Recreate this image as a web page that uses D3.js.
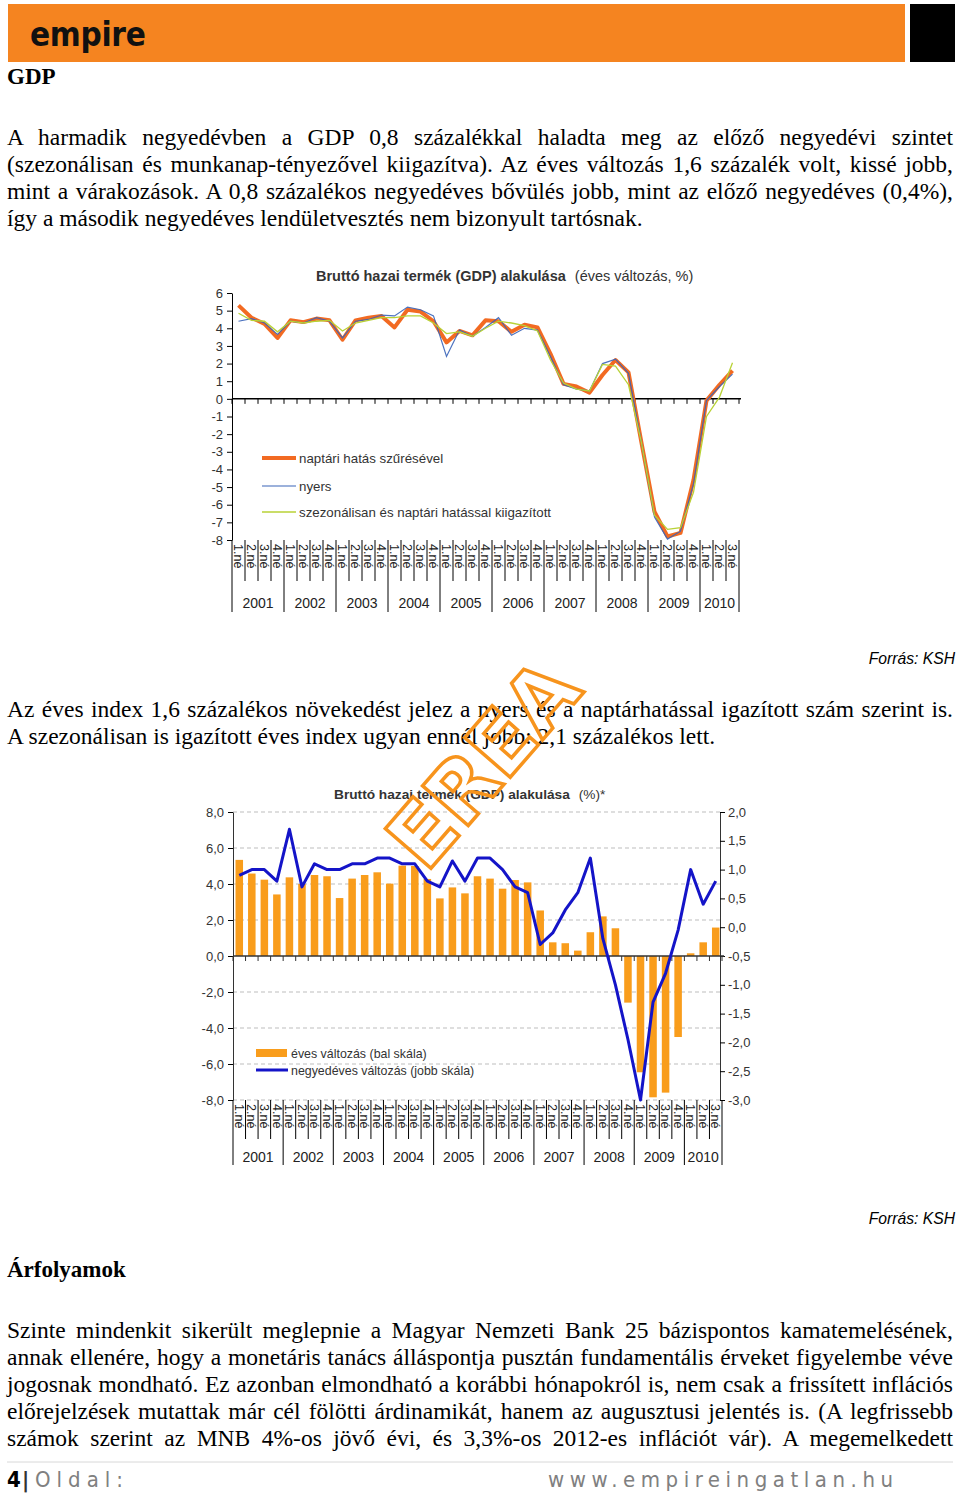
<!DOCTYPE html>
<html><head><meta charset="utf-8">
<script src="https://cdn.jsdelivr.net/npm/d3@7"></script>
<style>
body{margin:0;background:#fff;}
svg{display:block;}
</style></head><body>
<svg id="page" width="960" height="1493"></svg>
<script>
// ---------------- DATA ----------------
const years = ["2001","2002","2003","2004","2005","2006","2007","2008","2009","2010"];
const quarterLabels = [];
years.forEach(y => { const n = y === "2010" ? 3 : 4; for (let q = 1; q <= n; q++) quarterLabels.push(q + ".né"); });

// Chart 1: éves változás, %
const naptari = [5.3,4.6,4.25,3.45,4.45,4.35,4.55,4.45,3.35,4.45,4.6,4.7,4.05,5.05,4.95,4.4,3.2,3.85,3.6,4.45,4.4,3.8,4.2,4.05,2.55,0.85,0.7,0.35,1.35,2.2,1.5,-2.5,-6.4,-7.8,-7.6,-4.6,-0.1,0.8,1.6];
const nyers = [4.4,4.55,4.3,3.65,4.4,4.3,4.6,4.4,3.45,4.4,4.5,4.75,4.7,5.2,5.05,4.7,2.4,3.9,3.55,4.05,4.6,3.6,4.0,3.9,2.4,0.8,0.55,0.45,2.0,2.25,1.45,-2.5,-6.7,-7.95,-7.5,-4.8,-0.1,0.7,1.4];
const szezonalis = [4.85,4.45,4.4,3.8,4.4,4.3,4.4,4.45,3.85,4.3,4.45,4.6,4.6,4.7,4.7,4.3,3.7,3.8,3.55,4.0,4.4,4.3,4.15,3.85,2.2,0.9,0.55,0.45,1.95,1.85,0.8,-2.5,-6.6,-7.4,-7.3,-5.3,-1.0,0.1,2.05];
const y1Ticks = [6,5,4,3,2,1,0,-1,-2,-3,-4,-5,-6,-7,-8];

// Chart 2
const eves = [5.34,4.58,4.24,3.42,4.37,4.0,4.5,4.43,3.22,4.3,4.5,4.65,4.02,5.02,5.0,4.28,3.2,3.81,3.48,4.43,4.3,3.74,4.22,4.09,2.53,0.76,0.71,0.3,1.32,2.2,1.54,-2.59,-6.46,-7.85,-7.59,-4.5,0.15,0.76,1.58];
const negyedeves = [0.9,1.0,1.0,0.8,1.7,0.7,1.1,1.0,1.0,1.1,1.1,1.2,1.2,1.1,1.1,0.8,0.7,1.15,0.8,1.2,1.2,1.0,0.7,0.6,-0.3,-0.1,0.3,0.6,1.2,-0.2,-1.0,-1.95,-3.0,-1.3,-0.8,-0.05,1.0,0.4,0.8];
const y2LeftTicks = [8,6,4,2,0,-2,-4,-6,-8];
const y2RightTicks = [2,1.5,1,0.5,0,-0.5,-1,-1.5,-2,-2.5,-3];

// Texts
const para1 = [
 "A harmadik negyedévben a GDP 0,8 százalékkal haladta meg az előző negyedévi szintet",
 "(szezonálisan és munkanap-tényezővel kiigazítva). Az éves változás 1,6 százalék volt, kissé jobb,",
 "mint a várakozások. A 0,8 százalékos negyedéves bővülés jobb, mint az előző negyedéves (0,4%),",
 "így a második negyedéves lendületvesztés nem bizonyult tartósnak."];
const para2 = [
 "Az éves index 1,6 százalékos növekedést jelez a nyers és a naptárhatással igazított szám szerint is.",
 "A szezonálisan is igazított éves index ugyan ennél jobb: 2,1 százalékos lett."];
const para3 = [
 "Szinte mindenkit sikerült meglepnie a Magyar Nemzeti Bank 25 bázispontos kamatemelésének,",
 "annak ellenére, hogy a monetáris tanács álláspontja pusztán fundamentális érveket figyelembe véve",
 "jogosnak mondható. Ez azonban elmondható a korábbi hónapokról is, nem csak a frissített inflációs",
 "előrejelzések mutattak már cél fölötti árdinamikát, hanem az augusztusi jelentés is. (A legfrissebb",
 "számok szerint az MNB 4%-os jövő évi, és 3,3%-os 2012-es inflációt vár). A megemelkedett"];

// ---------------- PAGE ----------------
const svg = d3.select("#page");
const SERIF = "'Liberation Serif','Times New Roman',serif";
const SANS = "'Liberation Sans',Arial,sans-serif";
const NARROW = "'Liberation Sans Narrow','DejaVu Sans Condensed',sans-serif";

// header
svg.append("rect").attr("x",8).attr("y",4).attr("width",897).attr("height",58).attr("fill","#F58420");
svg.append("rect").attr("x",910).attr("y",4).attr("width",45).attr("height",58).attr("fill","#000");
svg.append("text").attr("x",30).attr("y",46).text("empire")
  .attr("font-family","'DejaVu Sans Condensed','DejaVu Sans',sans-serif").attr("font-weight","bold")
  .attr("font-size",33).attr("letter-spacing",-0.3).attr("fill","#111");

function heading(t, y){
  svg.append("text").attr("x",7).attr("y",y).text(t).attr("font-family",SERIF)
   .attr("font-weight","bold").attr("font-size",23).attr("fill","#000");
}
function paragraph(lines, base, justifyLast){
  lines.forEach((t,i)=>{
    const el = svg.append("text").attr("x",7).attr("y",base+i*27).text(t)
      .attr("font-family",SERIF).attr("font-size",23.5).attr("fill","#000");
    if (i < lines.length-1 || justifyLast){
      const w = el.node().getComputedTextLength();
      const n = (t.match(/ /g)||[]).length;
      el.style("word-spacing", ((946 - w)/n) + "px");
    }
  });
}
heading("GDP", 84);
paragraph(para1, 145, false);
paragraph(para2, 717, false);
heading("Árfolyamok", 1277);
paragraph(para3, 1338, true);

function source(y){
  svg.append("text").attr("x",955).attr("y",y).attr("text-anchor","end").text("Forrás: KSH")
   .attr("font-family",SANS).attr("font-style","italic").attr("font-size",15.7).attr("fill","#000");
}
source(664); source(1224);

// footer
svg.append("line").attr("x1",7).attr("x2",953).attr("y1",1462).attr("y2",1462).attr("stroke","#d8d8d8");
svg.append("text").attr("x",7).attr("y",1487).text("4").attr("font-family",NARROW).attr("font-weight","bold").attr("font-size",22);
svg.append("text").attr("x",22).attr("y",1487).text("|").attr("font-family",NARROW).attr("font-weight","bold").attr("font-size",22).attr("fill","#333");
svg.append("text").attr("x",35).attr("y",1487).text("Oldal:").attr("font-family",NARROW).attr("font-size",22).attr("fill","#808080")
  .attr("textLength",88).attr("lengthAdjust","spacing");
svg.append("text").attr("x",548).attr("y",1487).text("www.empireingatlan.hu").attr("font-family",NARROW).attr("font-size",22).attr("fill","#808080")
  .attr("textLength",345).attr("lengthAdjust","spacing");

// ---------- helpers for category axis ----------
function catAxis(g, x, yTop, qEnd, yEnd, yLbl){
  const bw = x.bandwidth();
  const n = x.domain().length;
  const [r0, r1] = x.range();
  for (let k = 0; k <= n; k++){
    const xx = k < n ? x(k) : r1;
    const isYear = (k % 4 === 0) || k === n;
    g.append("line").attr("x1",xx).attr("x2",xx).attr("y1",yTop).attr("y2",isYear?yEnd:qEnd)
      .attr("stroke","#000").attr("stroke-width",1);
  }
  quarterLabels.forEach((t,i)=>{
    const cx = x(i)+bw/2, cy = yTop+4;
    g.append("text").attr("transform",`translate(${cx},${cy}) rotate(90)`).attr("dy","0.35em")
      .text(t).attr("font-family",SANS).attr("font-size",12.5).attr("fill","#222");
  });
  years.forEach((yr,k)=>{
    const a = x(k*4), b = (k*4+4 < n) ? x(k*4+4) : r1;
    g.append("text").attr("x",(a+b)/2).attr("y",yLbl).attr("text-anchor","middle").text(yr)
      .attr("font-family",SANS).attr("font-size",14).attr("fill","#222");
  });
}
function zeroLine(g, x, y0, color){
  const n = x.domain().length; const [r0,r1] = x.range();
  g.append("line").attr("x1",r0).attr("x2",r1+2).attr("y1",y0).attr("y2",y0).attr("stroke",color).attr("stroke-width",1.5);
  for (let k=0;k<=n;k++){
    const xx = k<n ? x(k) : r1;
    g.append("line").attr("x1",xx).attr("x2",xx).attr("y1",y0).attr("y2",y0+5).attr("stroke",color);
  }
}

// ---------------- CHART 1 ----------------
const c1 = svg.append("g");
const x1 = d3.scaleBand().domain(d3.range(quarterLabels.length)).range([232,739]);
const y1 = d3.scaleLinear().domain([-8,6]).range([540,293]);
const t1 = c1.append("text").attr("x",316).attr("y",281).attr("font-family",SANS).attr("font-size",14.5).attr("fill","#333");
t1.append("tspan").attr("font-weight","bold").text("Bruttó hazai termék (GDP) alakulása");
t1.append("tspan").attr("dx",9).text("(éves változás, %)");

c1.append("g").attr("transform","translate(232,0)")
  .call(d3.axisLeft(y1).tickValues(y1Ticks).tickSize(5).tickSizeOuter(0).tickPadding(4).tickFormat(d=>String(d)))
  .call(g=>{ g.select(".domain").attr("stroke","#000");
    g.selectAll("text").attr("font-family",SANS).attr("font-size",13).attr("fill","#333"); });
zeroLine(c1, x1, y1(0), "#000");
catAxis(c1, x1, 540, 581, 612, 608);

const line1 = d3.line().x((d,i)=>x1(i)+x1.bandwidth()/2).y(d=>y1(d));
c1.append("path").datum(naptari).attr("d",line1).attr("fill","none").attr("stroke","#F26A22").attr("stroke-width",4).attr("stroke-linejoin","round");
c1.append("path").datum(nyers).attr("d",line1).attr("fill","none").attr("stroke","#3A64B8").attr("stroke-width",1.2).attr("opacity",0.9);
c1.append("path").datum(szezonalis).attr("d",line1).attr("fill","none").attr("stroke","#B8D236").attr("stroke-width",1.3);

const leg1 = [["naptári hatás szűrésével","#F26A22",4,458],["nyers","#3A64B8",1.2,486],["szezonálisan és naptári hatással kiigazított","#B8D236",1.3,512]];
leg1.forEach(([t,c,w,yy])=>{
  c1.append("line").attr("x1",262).attr("x2",296).attr("y1",yy).attr("y2",yy).attr("stroke",c).attr("stroke-width",w);
  c1.append("text").attr("x",299).attr("y",yy+4.5).text(t).attr("font-family",SANS).attr("font-size",13.3).attr("fill","#333");
});

// ---------------- CHART 2 ----------------
const c2 = svg.append("g");
const x2 = d3.scaleBand().domain(d3.range(quarterLabels.length)).range([233,722]);
const yL = d3.scaleLinear().domain([-8,8]).range([1100,812]);
const yR = d3.scaleLinear().domain([-3,2]).range([1100,812]);
const fmt = d=> d.toFixed(1).replace(".",",");
const t2 = c2.append("text").attr("x",334).attr("y",799).attr("font-family",SANS).attr("font-size",13.7).attr("fill","#333");
t2.append("tspan").attr("font-weight","bold").text("Bruttó hazai termék (GDP) alakulása");
t2.append("tspan").attr("dx",9).text("(%)*");

y2LeftTicks.filter(v=>v!==0).forEach(v=>{
  c2.append("line").attr("x1",233).attr("x2",720).attr("y1",yL(v)).attr("y2",yL(v))
    .attr("stroke","#bdbdbd").attr("stroke-dasharray","4,3");
});
c2.append("g").attr("transform","translate(233,0)")
  .call(d3.axisLeft(yL).tickValues(y2LeftTicks).tickSize(5).tickSizeOuter(0).tickPadding(4).tickFormat(fmt))
  .call(g=>{ g.select(".domain").attr("stroke","#333");
    g.selectAll("text").attr("font-family",SANS).attr("font-size",13).attr("fill","#333"); });
c2.append("g").attr("transform","translate(720,0)")
  .call(d3.axisRight(yR).tickValues(y2RightTicks).tickSize(5).tickSizeOuter(0).tickPadding(3).tickFormat(fmt))
  .call(g=>{ g.select(".domain").attr("stroke","#333");
    g.selectAll("text").attr("font-family",SANS).attr("font-size",13).attr("fill","#333"); });

const bw2 = x2.bandwidth();
c2.selectAll("rect.bar").data(eves).join("rect").attr("class","bar")
  .attr("x",(d,i)=>x2(i)+bw2*0.2).attr("width",bw2*0.6)
  .attr("y",d=>Math.min(yL(d),yL(0))).attr("height",d=>Math.abs(yL(d)-yL(0)))
  .attr("fill","#F99D1C");
zeroLine(c2, x2, yL(0), "#333");
catAxis(c2, x2, 1100, 1139, 1165, 1162);
const line2 = d3.line().x((d,i)=>x2(i)+bw2/2).y(d=>yR(d));
c2.append("path").datum(negyedeves).attr("d",line2).attr("fill","none").attr("stroke","#1414C8").attr("stroke-width",3).attr("stroke-linejoin","round");

c2.append("rect").attr("x",256).attr("y",1049).attr("width",31).attr("height",8).attr("fill","#F99D1C");
c2.append("text").attr("x",291).attr("y",1057.5).text("éves változás (bal skála)").attr("font-family",SANS).attr("font-size",12.4).attr("fill","#333");
c2.append("line").attr("x1",256).attr("x2",288).attr("y1",1070).attr("y2",1070).attr("stroke","#1414C8").attr("stroke-width",3);
c2.append("text").attr("x",291).attr("y",1074.5).text("negyedéves változás (jobb skála)").attr("font-family",SANS).attr("font-size",12.4).attr("fill","#333");

// watermark
svg.append("text").attr("transform","translate(426,874) rotate(-49)").text("EREA")
  .attr("font-family","'DejaVu Sans',sans-serif").attr("font-weight","bold").attr("font-size",83)
  .attr("fill","none").attr("stroke","#F7941D").attr("stroke-width",3.5);
</script>
</body></html>
